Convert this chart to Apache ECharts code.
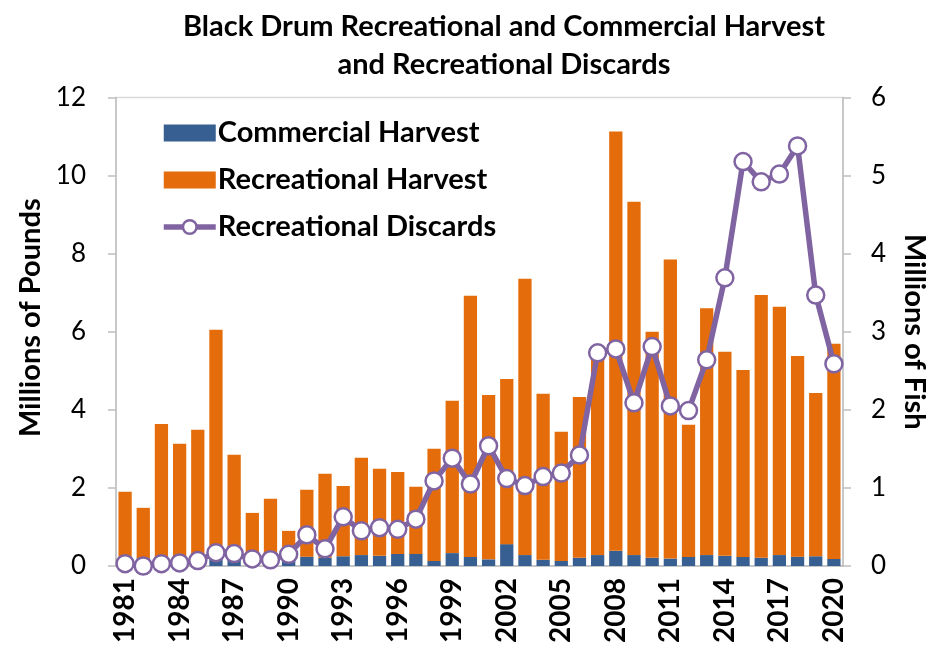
<!DOCTYPE html>
<html><head><meta charset="utf-8">
<script src="https://cdn.jsdelivr.net/npm/echarts@6/dist/echarts.min.js"></script>
<style>html,body{margin:0;padding:0;background:#fff}#c{width:943px;height:652px}</style>
</head><body><div id="c"></div>
<script>
const years = [1981,1982,1983,1984,1985,1986,1987,1988,1989,1990,1991,1992,1993,1994,1995,1996,1997,1998,1999,2000,2001,2002,2003,2004,2005,2006,2007,2008,2009,2010,2011,2012,2013,2014,2015,2016,2017,2018,2019,2020].map(String);
const commercialHarvest = [0.05,0.2,0.05,0.05,0.08,0.2,0.18,0.08,0.08,0.15,0.24,0.21,0.25,0.28,0.26,0.31,0.31,0.13,0.33,0.23,0.17,0.56,0.28,0.16,0.13,0.21,0.28,0.39,0.28,0.21,0.19,0.23,0.28,0.26,0.23,0.21,0.28,0.24,0.25,0.18];
const totalHarvest = [1.90,1.49,3.64,3.13,3.49,6.05,2.85,1.36,1.72,0.90,1.95,2.36,2.05,2.77,2.49,2.41,2.03,3.00,4.23,6.92,4.38,4.79,7.36,4.41,3.44,4.33,5.45,11.13,9.33,6.00,7.85,3.62,6.60,5.49,5.02,6.94,6.64,5.38,4.43,5.69];
const recreationalHarvest = totalHarvest.map((t,i)=>+(t-commercialHarvest[i]).toFixed(2));
const recreationalDiscards = [0.03,0.0,0.03,0.04,0.07,0.17,0.16,0.09,0.08,0.15,0.40,0.22,0.63,0.45,0.49,0.47,0.60,1.09,1.38,1.05,1.54,1.12,1.03,1.145,1.19,1.42,2.73,2.78,2.09,2.81,2.05,1.99,2.64,3.69,5.18,4.92,5.02,5.38,3.47,2.59];

const FONT = 'Lato';
const chart = echarts.init(document.getElementById('c'), null, {renderer:'canvas'});
chart.setOption({
  animation:false,
  textStyle:{fontFamily:FONT},
  title:{
    text:'Black Drum Recreational and Commercial Harvest\nand Recreational Discards',
    left:499, top:3, textAlign:'center',
    textStyle:{fontFamily:FONT, fontWeight:'bold', fontSize:29, lineHeight:38, color:'#000'}
  },
  legend:{
    orient:'vertical', left:156, top:112, itemWidth:52, itemHeight:17, itemGap:15,
    textStyle:{fontFamily:FONT, fontWeight:'bold', fontSize:29, lineHeight:32, color:'#000', padding:[0,0,0,-3]},
    data:[
      {name:'Commercial Harvest', icon:'rect'},
      {name:'Recreational Harvest', icon:'rect'},
      {name:'Recreational Discards', lineStyle:{width:5.5, color:'#8064A2'}, itemStyle:{color:'#ffffff', borderColor:'#8064A2', borderWidth:2.5}}
    ]
  },
  grid:{left:116, right:100, top:97.5, bottom:86, show:true, borderColor:'#d9d9d9', borderWidth:1.5},
  xAxis:{
    type:'category', data:years, boundaryGap:true,
    axisLine:{lineStyle:{color:'#bfbfbf', width:1.5}},
    axisTick:{interval:0, length:8, lineStyle:{color:'#bfbfbf', width:1.5}},
    axisLabel:{interval:2, rotate:90, margin:12, fontFamily:FONT, fontWeight:'bold', fontSize:28, color:'#000'}
  },
  yAxis:[{
    type:'value', min:0, max:12, interval:2,
    name:'Millions of Pounds', nameLocation:'middle', nameGap:70, nameRotate:90,
    nameTextStyle:{fontFamily:FONT, fontWeight:'bold', fontSize:29, color:'#000', padding:[0,0,0,28]},
    axisLine:{show:true, lineStyle:{color:'#bfbfbf', width:1.5}},
    axisTick:{show:true, length:8, lineStyle:{color:'#bfbfbf', width:1.5}},
    splitLine:{show:false},
    axisLabel:{margin:30, fontFamily:FONT, fontSize:26, color:'#000'}
  },{
    type:'value', min:0, max:6, interval:1, position:'right',
    name:'Millions of Fish', nameLocation:'middle', nameGap:57, nameRotate:-90,
    nameTextStyle:{fontFamily:FONT, fontWeight:'bold', fontSize:29, color:'#000'},
    axisLine:{show:true, lineStyle:{color:'#bfbfbf', width:1.5}},
    axisTick:{show:true, length:8, lineStyle:{color:'#bfbfbf', width:1.5}},
    splitLine:{show:false},
    axisLabel:{margin:28, fontFamily:FONT, fontSize:26, color:'#000'}
  }],
  series:[{
    name:'Commercial Harvest', type:'bar', stack:'h', data:commercialHarvest, barCategoryGap:'27%',
    itemStyle:{color:'#375F92'}
  },{
    name:'Recreational Harvest', type:'bar', stack:'h', data:recreationalHarvest, barCategoryGap:'27%',
    itemStyle:{color:'#E46C0A'}
  },{
    name:'Recreational Discards', type:'line', yAxisIndex:1, data:recreationalDiscards,
    symbol:'circle', symbolSize:17, showAllSymbol:true,
    lineStyle:{color:'#8064A2', width:5.5},
    itemStyle:{color:'#ffffff', borderColor:'#8064A2', borderWidth:2.5}
  }]
});
</script></body></html>
